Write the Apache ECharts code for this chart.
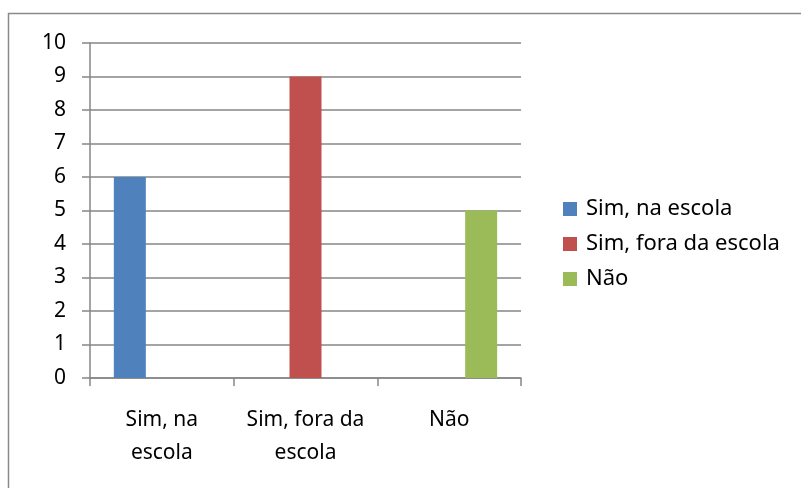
<!DOCTYPE html>
<html><head><meta charset="utf-8">
<script src="https://cdn.jsdelivr.net/npm/echarts@6/dist/echarts.min.js"></script>
<style>html,body{margin:0;padding:0;background:#fff}#c{width:801px;height:488px}</style>
</head><body><div id="c"></div>
<script>
const categories = ['Sim, na escola', 'Sim, fora da escola', 'Não'];
const tickLabels = ['Sim, na\nescola', 'Sim, fora da\nescola', 'Não'];
const seriesNames = ['Sim, na escola', 'Sim, fora da escola', 'Não'];
const seriesValues = [
  [6, null, null],
  [null, 9, null],
  [null, null, 5]
];
const colors = ['#4F81BD', '#C0504D', '#9BBB59'];
const FONT = 'Noto Sans';
const chart = echarts.init(document.getElementById('c'));
chart.setOption({
  animation: false,
  textStyle: {fontFamily: FONT},
  graphic: [{type: 'rect', shape: {x: 8.5, y: 13.5, width: 820, height: 500}, style: {fill: 'none', stroke: '#8a8a8a', lineWidth: 1.5}, z: -1}],
  grid: {left: 90, right: 280, top: 43, bottom: 110, containLabel: false},
  legend: {
    orient: 'vertical', left: 563, top: 198, padding: 0, itemWidth: 14, itemHeight: 14, itemGap: 13,
    icon: 'rect',
    textStyle: {fontFamily: FONT, fontSize: 22, lineHeight: 22, color: '#000', padding: [0,0,0,4]},
    data: seriesNames
  },
  xAxis: {
    type: 'category', data: categories,
    axisLine: {lineStyle: {color: '#868686', width: 1.5}},
    axisTick: {show: true, length: 8, alignWithLabel: false, lineStyle: {color: '#868686', width: 1.5}},
    axisLabel: {fontFamily: FONT, fontSize: 21, color: '#000', margin: 26, lineHeight: 33,
      interval: 0, hideOverlap: false,
      formatter: (v, i) => tickLabels[i]}
  },
  yAxis: {
    type: 'value', min: 0, max: 10, interval: 1,
    axisLine: {show: true, lineStyle: {color: '#868686', width: 1.5}},
    axisTick: {show: true, length: 8, lineStyle: {color: '#868686', width: 1.5}},
    splitLine: {lineStyle: {color: '#868686', width: 1.5}},
    axisLabel: {fontFamily: FONT, fontSize: 21, color: '#000', margin: 24}
  },
  series: seriesNames.map((n, i) => ({
    name: n, type: 'bar', data: seriesValues[i], barWidth: 32, barGap: '0%',
    itemStyle: {color: colors[i]}
  }))
});
</script></body></html>
